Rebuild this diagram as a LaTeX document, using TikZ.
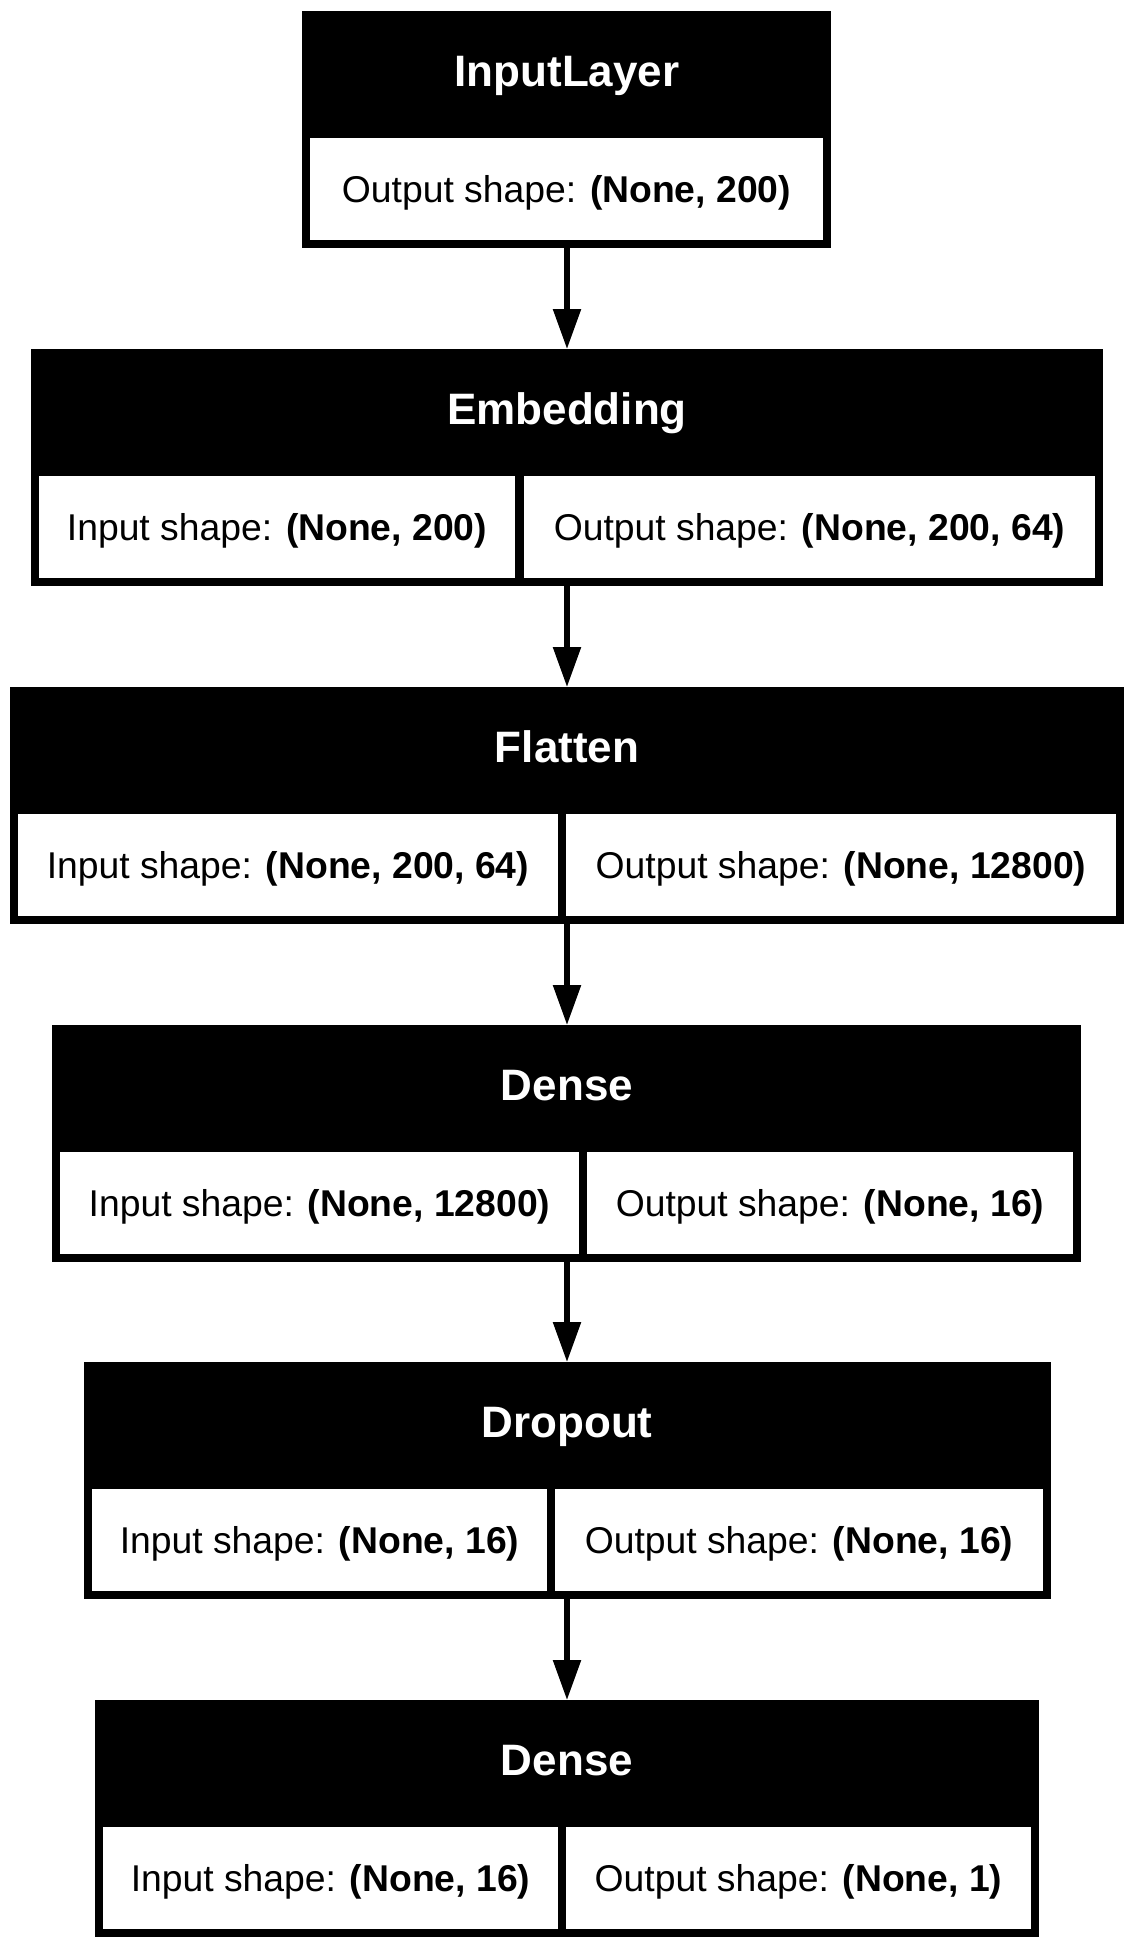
\documentclass[tikz,border=0pt]{standalone}
\usepackage{fontspec}
\setmainfont{Liberation Sans}
\usepackage{tikz}
\usetikzlibrary{arrows.meta,positioning}

\begin{document}
\begin{tikzpicture}[x=1pt, y=-1pt,
  layer/.style={fill=black, inner sep=0pt, outer sep=0pt, anchor=north west},
  cell/.style={fill=white, inner sep=0pt, outer sep=0pt, anchor=north west,
               minimum height=102pt, text height=30pt, text depth=4pt,
               font=\fontsize{37.3}{45}\selectfont},
  head/.style={text=white, text height=32pt, text depth=9pt,
               font=\fontsize{44}{52}\selectfont\bfseries},
  flow/.style={-{Triangle[length=40pt,width=27pt]}, line width=5.5pt}]
\useasboundingbox (0,0) rectangle (1134,1947);
% InputLayer
\node[layer, minimum width=529pt, minimum height=237pt] (inp) at (302,11) {};
\node[head] (inpname) at (567,74.5) {InputLayer};
\node[cell, minimum width=513pt] (inpout) at (310,138) {Output shape: \textbf{(None, 200)}};
% Embedding
\node[layer, minimum width=1072pt, minimum height=237pt] (emb) at (31,349) {};
\node[head] (embname) at (567,412.5) {Embedding};
\node[cell, minimum width=476pt] (embin) at (39,476) {Input shape: \textbf{(None, 200)}};
\node[cell, minimum width=571pt] (embout) at (524,476) {Output shape: \textbf{(None, 200, 64)}};
% Flatten
\node[layer, minimum width=1114pt, minimum height=237pt] (flat) at (10,687) {};
\node[head] (flatname) at (567,750.5) {Flatten};
\node[cell, minimum width=540pt] (flatin) at (18,814) {Input shape: \textbf{(None, 200, 64)}};
\node[cell, minimum width=550pt] (flatout) at (566,814) {Output shape: \textbf{(None, 12800)}};
% Dense
\node[layer, minimum width=1029pt, minimum height=237pt] (dense) at (52,1025) {};
\node[head] (densename) at (567,1088.5) {Dense};
\node[cell, minimum width=519pt] (densein) at (60,1152) {Input shape: \textbf{(None, 12800)}};
\node[cell, minimum width=486pt] (denseout) at (587,1152) {Output shape: \textbf{(None, 16)}};
% Dropout
\node[layer, minimum width=967pt, minimum height=237pt] (drop) at (84,1362) {};
\node[head] (dropname) at (567,1425.5) {Dropout};
\node[cell, minimum width=455pt] (dropin) at (92,1489) {Input shape: \textbf{(None, 16)}};
\node[cell, minimum width=488pt] (dropout) at (555,1489) {Output shape: \textbf{(None, 16)}};
% Dense (output)
\node[layer, minimum width=944pt, minimum height=237pt] (out) at (95,1700) {};
\node[head] (outname) at (567,1763.5) {Dense};
\node[cell, minimum width=455pt] (outin) at (103,1827) {Input shape: \textbf{(None, 16)}};
\node[cell, minimum width=465pt] (outout) at (566,1827) {Output shape: \textbf{(None, 1)}};
% connections
\draw[flow] (567,0 |- inp.south) -- (567,0 |- emb.north);
\draw[flow] (567,0 |- emb.south) -- (567,0 |- flat.north);
\draw[flow] (567,0 |- flat.south) -- (567,0 |- dense.north);
\draw[flow] (567,0 |- dense.south) -- (567,0 |- drop.north);
\draw[flow] (567,0 |- drop.south) -- (567,0 |- out.north);
\end{tikzpicture}
\end{document}
